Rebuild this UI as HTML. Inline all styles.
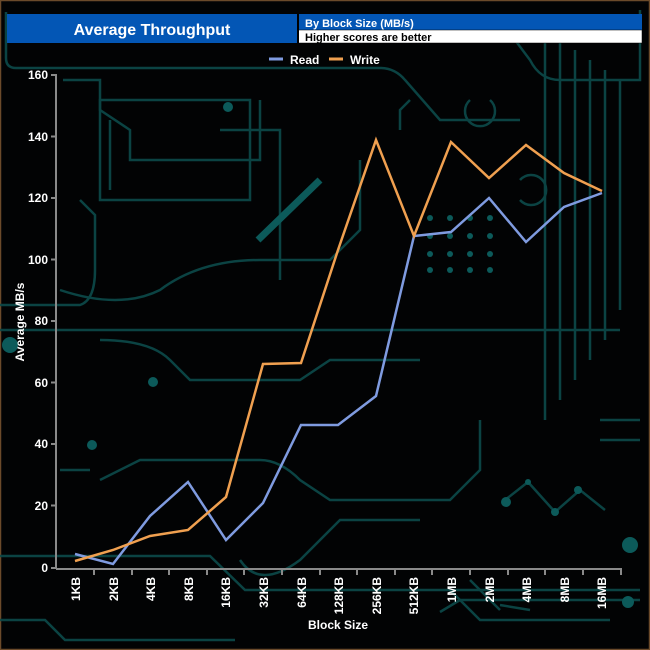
<!DOCTYPE html><html><head><style>body{margin:0;background:#000}svg{display:block}text{font-family:"Liberation Sans",sans-serif;font-weight:bold;fill:#fff}</style></head><body>
<svg width="650" height="650" viewBox="0 0 650 650" xmlns="http://www.w3.org/2000/svg">
<rect x="0" y="0" width="650" height="650" fill="#020304"/>
<rect x="0.5" y="0.5" width="649" height="649" fill="none" stroke="#6b4a2a" stroke-width="1.5"/>
<g fill="none" stroke="#0c4a4a" stroke-width="2.5" opacity="0.9">
<path d="M6 12 V58 Q6 68 16 68 H380 Q395 68 405 80 L440 120 H520"/>
<path d="M640 10 V80 H560 Q540 80 530 60 L500 20 H420"/>
<path d="M63 80 H100 V110 L130 130 V160 H260 V100"/>
<path d="M60 290 Q120 310 160 290 Q200 260 260 260 H330 L360 230 V160"/>
<path d="M0 305 H80 Q95 300 95 270 V215 L80 200"/>
<path d="M0 330 H620"/>
<path d="M100 340 Q150 340 170 360 L190 380 H300 L330 360 H420"/>
<path d="M0 556 H210 L245 590 H640"/>
<path d="M0 620 H45 L65 640 H235"/>
<path d="M440 612 L460 600 H640"/>
<path d="M60 470 H90 M100 480 L140 460 H260 Q280 460 300 480 L330 500 H450 L480 470 V420"/>
<path d="M240 560 Q260 590 300 560 L340 520 H420"/>
<path d="M545 30 V420 M560 40 V400 M575 50 V380 M590 60 V360 M605 70 V340 M620 80 V310"/>
<path d="M450 590 L480 620 H610 M470 580 L500 610 M500 605 L530 610"/>
<path d="M505 500 L528 482 L555 512 L580 490 L605 510"/>
<path d="M100 100 H250 V200 H100Z M110 120 V190"/>
<path d="M220 130 H280 V280 M400 130 V110 L410 100"/>
<path d="M470 100 A15 15 0 1 0 490 100"/>
<path d="M520 200 A15 15 0 1 0 520 180 M600 420 H640 M600 440 H640"/>
</g>
<g fill="#0c5a5a">
<circle cx="92" cy="445" r="5"/><circle cx="630" cy="545" r="8"/><circle cx="628" cy="602" r="6"/>
<circle cx="506" cy="502" r="5"/><circle cx="555" cy="512" r="4"/><circle cx="578" cy="490" r="4"/><circle cx="528" cy="482" r="3"/>
<circle cx="228" cy="107" r="5"/><circle cx="153" cy="382" r="5"/><circle cx="10" cy="345" r="8"/>
<circle cx="430" cy="218" r="3"/><circle cx="450" cy="218" r="3"/><circle cx="470" cy="218" r="3"/><circle cx="490" cy="218" r="3"/>
<circle cx="430" cy="236" r="3"/><circle cx="450" cy="236" r="3"/><circle cx="470" cy="236" r="3"/><circle cx="490" cy="236" r="3"/>
<circle cx="430" cy="254" r="3"/><circle cx="450" cy="254" r="3"/><circle cx="470" cy="254" r="3"/><circle cx="490" cy="254" r="3"/>
<circle cx="430" cy="270" r="3"/><circle cx="450" cy="270" r="3"/><circle cx="470" cy="270" r="3"/><circle cx="490" cy="270" r="3"/>
</g>
<path d="M258 240 L320 180" stroke="#0c5a5a" stroke-width="7"/>
<!-- header -->
<rect x="7" y="14" width="290" height="29" fill="#0356b5"/>
<text x="152" y="35" font-size="16" text-anchor="middle">Average Throughput</text>
<rect x="298" y="14" width="344" height="16" fill="#0356b5"/>
<rect x="298" y="30" width="344" height="13" fill="#fff" stroke="#000" stroke-width="0.5"/>
<rect x="297" y="14" width="2" height="29" fill="#000"/>
<text x="305" y="27" font-size="11" font-weight="normal">By Block Size (MB/s)</text>
<text x="305" y="41" font-size="11" font-weight="normal" style="fill:#000">Higher scores are better</text>
<!-- legend -->
<line x1="269" y1="59" x2="283" y2="59" stroke="#7f9be0" stroke-width="3"/>
<text x="290" y="64" font-size="12">Read</text>
<line x1="329" y1="59" x2="343" y2="59" stroke="#f0a050" stroke-width="3"/>
<text x="350" y="64" font-size="12">Write</text>
<!-- axes -->
<g stroke="#8a8a8a" stroke-width="2" fill="none">
<line x1="56" y1="74" x2="56" y2="569"/>
<line x1="56" y1="569" x2="622" y2="569"/>
<path d="M51 75H56 M51 136.5H56 M51 198H56 M51 259.5H56 M51 321H56 M51 382.5H56 M51 444H56 M51 505.5H56 M51 568H56"/>
<path d="M94 569V575 M132 569V575 M169 569V575 M207 569V575 M244 569V575 M282 569V575 M320 569V575 M357 569V575 M395 569V575 M432 569V575 M470 569V575 M508 569V575 M545 569V575 M583 569V575 M621 569V575"/>
</g>
<g font-size="12" text-anchor="end">
<text x="48" y="79">160</text><text x="48" y="141">140</text><text x="48" y="202">120</text><text x="48" y="264">100</text><text x="48" y="325">80</text><text x="48" y="387">60</text><text x="48" y="448">40</text><text x="48" y="510">20</text><text x="48" y="572">0</text>
</g>
<text transform="translate(24 322) rotate(-90)" font-size="12" text-anchor="middle">Average MB/s</text>
<g font-size="12" text-anchor="end">
<text transform="translate(80 577) rotate(-90)">1KB</text>
<text transform="translate(118 577) rotate(-90)">2KB</text>
<text transform="translate(155 577) rotate(-90)">4KB</text>
<text transform="translate(193 577) rotate(-90)">8KB</text>
<text transform="translate(230 577) rotate(-90)">16KB</text>
<text transform="translate(268 577) rotate(-90)">32KB</text>
<text transform="translate(306 577) rotate(-90)">64KB</text>
<text transform="translate(343 577) rotate(-90)">128KB</text>
<text transform="translate(381 577) rotate(-90)">256KB</text>
<text transform="translate(418 577) rotate(-90)">512KB</text>
<text transform="translate(456 577) rotate(-90)">1MB</text>
<text transform="translate(494 577) rotate(-90)">2MB</text>
<text transform="translate(531 577) rotate(-90)">4MB</text>
<text transform="translate(569 577) rotate(-90)">8MB</text>
<text transform="translate(606 577) rotate(-90)">16MB</text>
</g>
<text x="338" y="629" font-size="12" text-anchor="middle">Block Size</text>
<polyline fill="none" stroke="#7f9be0" stroke-width="2.5" points="75,554 113,564 150,516 188,482 226,540 263,503 301,425 338,425 376,396 414,236 451,232 489,198 526,242 564,207 602,193"/>
<polyline fill="none" stroke="#f0a050" stroke-width="2.5" points="75,561 113,550 150,536 188,530 226,497 263,364 301,363 338,250 376,140 414,236 451,142 489,178 526,145 564,173 602,191"/>
</svg>
</body></html>
